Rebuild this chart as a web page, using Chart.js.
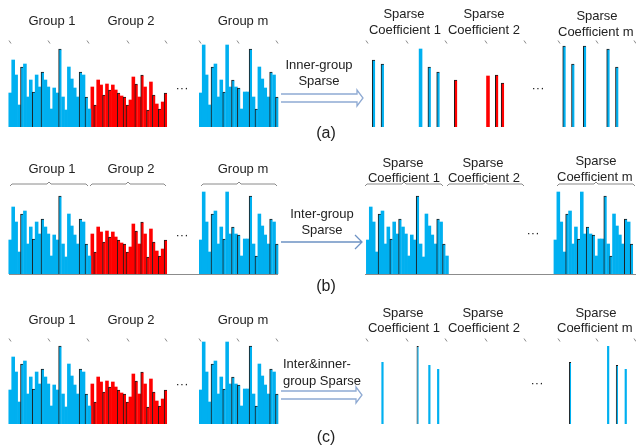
<!DOCTYPE html>
<html lang="en">
<head>
<meta charset="UTF-8">
<title>Group sparse coefficients</title>
<script src="https://cdn.jsdelivr.net/npm/chart.js@4.4.0/dist/chart.umd.min.js"></script>
<style>
  body { margin: 0; background: #fff; }
  #wrap { position: relative; width: 636px; height: 447px; overflow: hidden; font-family: "Liberation Sans", Arial, sans-serif; color: #222; }
  #wrap canvas { position: absolute; left: 0; }
  .lbl { position: absolute; white-space: nowrap; font-size: 13px; line-height: 1; transform: translate(-50%, -50%); }
  .left { transform: translate(0, -50%); }
  .cap { font-size: 16px; }
</style>
</head>
<body>
<div id="wrap">
  <canvas id="rowA" width="636" height="147" style="top:0"></canvas>
  <canvas id="rowB" width="636" height="150" style="top:147px"></canvas>
  <canvas id="rowC" width="636" height="150" style="top:297px"></canvas>
</div>
<script>
// bar heights (same scale in every row)
const group1 = [34, 67, 52, 22, 60, 63, 30, 47, 35, 52, 40, 55, 47, 40, 18, 39, 34, 78, 30, 17, 60, 48, 39, 30, 55, 52, 30, 18];
const group2 = [40, 22, 47, 42, 32, 43, 37, 42, 37, 34, 31, 30, 22, 27, 50, 43, 30, 52, 40, 17, 45, 32, 23, 18, 25, 34];
const groupM = [34, 82, 52, 22, 60, 63, 30, 47, 35, 82, 40, 47, 40, 39, 18, 35, 35, 78, 30, 18, 60, 48, 39, 30, 55, 52, 30];

// (a) inner-group sparse
const innerSparse1 = [null, 67, null, null, 63, null, null, null, null, null, null, null, null, null, null, null, null, 78, null, null, 60, null, null, 55, null, null, null, null];
const innerSparse2 = [null, 47, null, null, null, null, null, null, null, null, null, null, 51, null, null, 52, null, 44, null, null, null, null, null, null, null, null];
const innerSparseM = [null, 81, null, null, 63, null, null, null, 81, null, null, null, null, null, null, null, 78, null, null, 60, null, null, null, null, null, null, null];

// (b) inter-group sparse: group 1 and group m kept whole, group 2 dropped
const interSparse1 = group1;
const interSparseM = groupM;

// (c) inter & inner-group sparse
const bothSparse1 = [null, null, null, null, 62, null, null, null, null, null, null, null, null, null, null, null, 78, null, null, null, 59, null, null, 55, null, null, null, null];
const bothSparseM = [null, null, null, 62, null, null, null, null, null, null, null, null, null, null, null, null, 78, null, null, 59, null, null, 55, null, null, null, null];

// bars drawn with a dark left edge
const edges1 = [4, 8, 11, 17, 24, 26];
const edges2 = [1, 4, 6, 9, 11, 12, 15, 17, 19, 21, 23, 25];
const edgesM = [4, 8, 11, 13, 17, 19, 24, 26];

const SLOTS = 217;
const BLUE = '#00b0f0', RED = '#ff0000', EDGE = '#1b1b1b';

function place(values, start) {
  const arr = new Array(SLOTS).fill(null);
  values.forEach((v, i) => { arr[start + i] = v; });
  return arr;
}

function bars(values, start, color, edges, pct) {
  return {
    data: place(values, start),
    backgroundColor: color,
    borderColor: EDGE,
    borderSkipped: false,
    borderWidth: ctx => edges.includes(ctx.dataIndex - start) ? { left: 1, top: 1, right: 0, bottom: 0 } : 0,
    barPercentage: pct || 1,
    categoryPercentage: 1,
    grouped: false
  };
}

// --- decorations (page coordinates, shifted by the row's top) ---
function ticks(ctx, y, xs) {
  ctx.strokeStyle = '#888';
  ctx.lineWidth = 1;
  xs.forEach(x => {
    ctx.beginPath();
    ctx.moveTo(x - 1, y - 1.5);
    ctx.lineTo(x + 1, y + 1.5);
    ctx.stroke();
  });
}

function braces(ctx, y, spans) {
  ctx.strokeStyle = '#8a8a8a';
  ctx.lineWidth = 1;
  spans.forEach(([a, b]) => {
    const m = (a + b) / 2;
    ctx.beginPath();
    ctx.moveTo(a, y + 2); ctx.lineTo(a + 2, y);
    ctx.lineTo(m - 2, y); ctx.lineTo(m, y - 2);
    ctx.lineTo(m + 2, y); ctx.lineTo(b - 2, y);
    ctx.lineTo(b, y + 2);
    ctx.stroke();
  });
}

function hollowArrow(ctx, x0, x1, yA, yB) {
  const mid = (yA + yB) / 2;
  ctx.strokeStyle = '#8faad3';
  ctx.lineWidth = 1.3;
  ctx.beginPath();
  ctx.moveTo(x0, yA); ctx.lineTo(x1 - 6, yA); ctx.lineTo(x1 - 6, yA - 4);
  ctx.lineTo(x1, mid);
  ctx.lineTo(x1 - 6, yB + 4); ctx.lineTo(x1 - 6, yB); ctx.lineTo(x0, yB);
  ctx.stroke();
}

function lineArrow(ctx, x0, x1, y) {
  ctx.strokeStyle = '#6d92c4';
  ctx.lineWidth = 1.3;
  ctx.beginPath();
  ctx.moveTo(x0, y); ctx.lineTo(x1, y);
  ctx.moveTo(x1 - 7, y - 7); ctx.lineTo(x1, y); ctx.lineTo(x1 - 7, y + 7);
  ctx.stroke();
}

const leftTicks = [10, 49, 88, 128, 166, 200, 238, 277];
const rightTicks = [367, 407, 446, 486, 525, 559, 597, 635];

const decorations = {
  rowA: ctx => {
    ticks(ctx, 42, leftTicks.concat(rightTicks));
    hollowArrow(ctx, 281, 363, 94, 102);
  },
  rowB: ctx => {
    braces(ctx, 184, [[10, 88], [90, 166], [201, 277], [365, 443], [447, 524], [557, 635]]);
    lineArrow(ctx, 281, 362, 242);
    ctx.strokeStyle = '#8c8c8c';
    ctx.lineWidth = 1;
    ctx.beginPath();
    ctx.moveTo(9, 274.5); ctx.lineTo(278, 274.5);
    ctx.moveTo(365, 274.5); ctx.lineTo(636, 274.5);
    ctx.stroke();
  },
  rowC: ctx => {
    ticks(ctx, 340, leftTicks.concat(rightTicks));
    hollowArrow(ctx, 281, 362, 391, 399);
  }
};

const decoPlugin = {
  id: 'deco',
  afterDraw(chart) {
    const id = chart.canvas.id;
    const top = chart.canvas.offsetTop;
    const ctx = chart.ctx;
    ctx.save();
    ctx.translate(0, -top);
    decorations[id](ctx);
    ctx.restore();
  }
};

function makeRow(id, datasets, padBottom) {
  new Chart(document.getElementById(id), {
    type: 'bar',
    data: { labels: new Array(SLOTS).fill(''), datasets },
    options: {
      responsive: false,
      animation: false,
      events: [],
      layout: { padding: { top: 27, bottom: padBottom, left: 0, right: 0 } },
      plugins: { legend: { display: false }, tooltip: { enabled: false } },
      scales: {
        x: { display: false },
        y: { display: false, min: 0, max: 100 }
      }
    },
    plugins: [decoPlugin]
  });
}

makeRow('rowA', [
  bars(group1, 3, BLUE, edges1),
  bars(group2, 31, RED, edges2),
  bars(groupM, 68, BLUE, edgesM),
  bars(innerSparse1, 126, BLUE, [1, 4, 20, 23]),
  bars(innerSparse2, 154, RED, [1, 15, 17]),
  bars(innerSparseM, 191, BLUE, [1, 4, 8, 16, 19])
], 20);

makeRow('rowB', [
  bars(group1, 3, BLUE, edges1),
  bars(group2, 31, RED, edges2),
  bars(groupM, 68, BLUE, edgesM),
  bars(interSparse1, 125, BLUE, edges1),
  bars(interSparseM, 189, BLUE, edgesM)
], 23);

makeRow('rowC', [
  bars(group1, 3, BLUE, edges1),
  bars(group2, 31, RED, edges2),
  bars(groupM, 68, BLUE, edgesM),
  bars(bothSparse1, 126, BLUE, [16], 0.75),
  bars(bothSparseM, 191, BLUE, [3, 19], 0.75)
], 23);

// --- text ---
const texts = [
  ['Group 1', 52, 20], ['Group 2', 131, 20], ['Group m', 243, 20],
  ['Sparse', 404, 13], ['Coefficient 1', 405, 29],
  ['Sparse', 484, 13], ['Coefficient 2', 484, 29],
  ['Sparse', 597, 15], ['Coefficient m', 558, 31, 'left'],
  ['Inner-group', 319, 64], ['Sparse', 319, 80],
  ['···', 182, 87], ['···', 538, 87],
  ['(a)', 326, 133, 'cap'],

  ['Group 1', 52, 168], ['Group 2', 131, 168], ['Group m', 243, 168],
  ['Sparse', 403, 162], ['Coefficient 1', 404, 177],
  ['Sparse', 483, 162], ['Coefficient 2', 484, 177],
  ['Sparse', 596, 160], ['Coefficient m', 557, 176, 'left'],
  ['Inter-group', 322, 213], ['Sparse', 322, 229],
  ['···', 182, 234], ['···', 533, 232],
  ['(b)', 326, 286, 'cap'],

  ['Group 1', 52, 319], ['Group 2', 131, 319], ['Group m', 243, 319],
  ['Sparse', 403, 312], ['Coefficient 1', 404, 327],
  ['Sparse', 483, 312], ['Coefficient 2', 484, 327],
  ['Sparse', 596, 312], ['Coefficient m', 557, 327, 'left'],
  ['Inter&inner-', 283, 363, 'left'], ['group Sparse', 283, 380, 'left'],
  ['···', 182, 383], ['···', 537, 382],
  ['(c)', 326, 437, 'cap']
];

const wrap = document.getElementById('wrap');
texts.forEach(([t, x, y, cls]) => {
  const d = document.createElement('div');
  d.className = 'lbl' + (cls ? ' ' + cls : '');
  d.textContent = t;
  d.style.left = x + 'px';
  d.style.top = y + 'px';
  wrap.appendChild(d);
});
</script>
</body>
</html>
